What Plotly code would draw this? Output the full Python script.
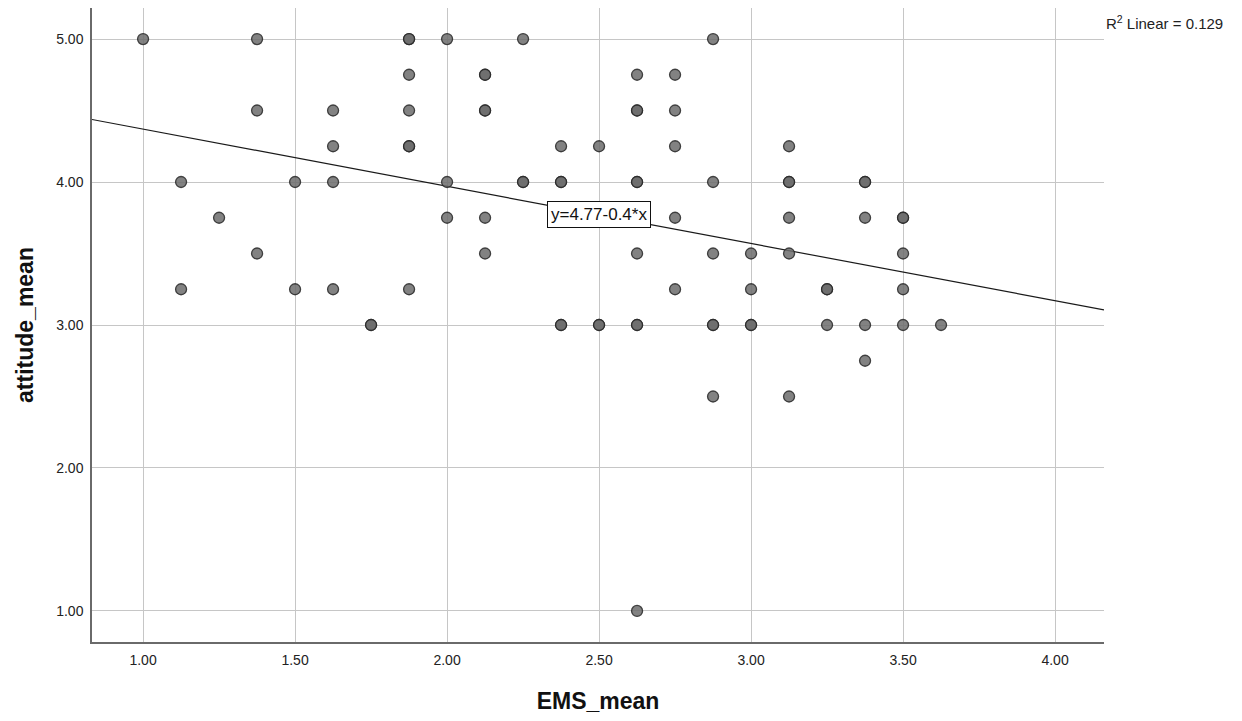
import plotly.graph_objects as go

# EMS_mean / attitude_mean observations (repeated pairs listed once per case)
ems_mean = [
    1.000,
    1.125, 1.125,
    1.250,
    1.375, 1.375, 1.375,
    1.500, 1.500,
    1.625, 1.625, 1.625, 1.625,
    1.750, 1.750,
    1.875, 1.875, 1.875, 1.875, 1.875, 1.875, 1.875,
    2.000, 2.000, 2.000,
    2.125, 2.125, 2.125, 2.125, 2.125, 2.125,
    2.250, 2.250, 2.250,
    2.375, 2.375, 2.375, 2.375, 2.375,
    2.500, 2.500, 2.500,
    2.625, 2.625, 2.625, 2.625, 2.625, 2.625, 2.625, 2.625, 2.625,
    2.750, 2.750, 2.750, 2.750, 2.750,
    2.875, 2.875, 2.875, 2.875, 2.875, 2.875,
    3.000, 3.000, 3.000, 3.000,
    3.125, 3.125, 3.125, 3.125, 3.125, 3.125,
    3.250, 3.250, 3.250,
    3.375, 3.375, 3.375, 3.375, 3.375,
    3.500, 3.500, 3.500, 3.500, 3.500,
    3.625,
]
attitude_mean = [
    5.00,
    4.00, 3.25,
    3.75,
    5.00, 4.50, 3.50,
    4.00, 3.25,
    4.50, 4.25, 4.00, 3.25,
    3.00, 3.00,
    5.00, 5.00, 4.75, 4.50, 4.25, 4.25, 3.25,
    5.00, 4.00, 3.75,
    4.75, 4.75, 4.50, 4.50, 3.75, 3.50,
    5.00, 4.00, 4.00,
    4.25, 4.00, 4.00, 3.00, 3.00,
    4.25, 3.00, 3.00,
    4.75, 4.50, 4.50, 4.00, 4.00, 3.50, 3.00, 3.00, 1.00,
    4.75, 4.50, 4.25, 3.75, 3.25,
    5.00, 4.00, 3.50, 3.00, 3.00, 2.50,
    3.50, 3.25, 3.00, 3.00,
    4.25, 4.00, 4.00, 3.75, 3.50, 2.50,
    3.25, 3.25, 3.00,
    4.00, 4.00, 3.75, 3.00, 2.75,
    3.75, 3.75, 3.50, 3.25, 3.00,
    3.00,
]

# Linear fit: y = intercept + slope * x
intercept = 4.77
slope = -0.4
r_squared = 0.129

x_range = [0.832, 4.161]
y_range = [0.783, 5.217]
tick_vals_x = [1.0, 1.5, 2.0, 2.5, 3.0, 3.5, 4.0]
tick_vals_y = [1.0, 2.0, 3.0, 4.0, 5.0]

fit_x = x_range
fit_y = [intercept + slope * v for v in fit_x]

font_family = "Liberation Sans, Arial, sans-serif"

fig = go.Figure()

fig.add_trace(go.Scatter(
    x=fit_x, y=fit_y, mode="lines",
    line=dict(color="#1a1a1a", width=1.2),
    hoverinfo="skip", showlegend=False,
))

fig.add_trace(go.Scatter(
    x=ems_mean, y=attitude_mean, mode="markers",
    marker=dict(size=11, color="rgba(108,108,108,0.85)",
                line=dict(color="rgba(40,40,40,0.85)", width=1.3)),
    showlegend=False,
))

# Fit equation label on the regression line
fig.add_annotation(
    x=2.5, y=3.77, xref="x", yref="y",
    text=f"y={intercept:.2f}{slope:+.1f}*x",
    showarrow=False,
    font=dict(family=font_family, size=17, color="#111"),
    bgcolor="white", bordercolor="#111", borderwidth=1, borderpad=3,
)

# R-squared label in the upper-right corner
fig.add_annotation(
    x=1.0, y=1.0, xref="paper", yref="paper",
    xanchor="left", yanchor="top", xshift=0, yshift=-3,
    text=f"R<sup>2</sup> Linear = {r_squared:.3f}",
    showarrow=False,
    font=dict(family=font_family, size=15, color="#222"),
)

fig.update_layout(
    width=1242, height=721,
    margin=dict(l=92, r=138, t=8, b=79),
    paper_bgcolor="white", plot_bgcolor="white",
    font=dict(family=font_family, color="#222"),
)

fig.update_xaxes(
    range=x_range, tickvals=tick_vals_x, tickformat=".2f",
    showgrid=True, gridcolor="#c6c6c6", gridwidth=1,
    showline=True, linecolor="#6a6a6a", linewidth=1.5,
    zeroline=False, ticks="outside", ticklen=4, tickcolor="rgba(0,0,0,0)",
    tickfont=dict(size=14, color="#222"),
    title=dict(text="<b>EMS_mean</b>", font=dict(size=23, color="#111"), standoff=26),
)
fig.update_yaxes(
    range=y_range, tickvals=tick_vals_y, tickformat=".2f",
    showgrid=True, gridcolor="#c6c6c6", gridwidth=1,
    showline=True, linecolor="#6a6a6a", linewidth=1.5,
    zeroline=False, ticks="outside", ticklen=4, tickcolor="rgba(0,0,0,0)",
    tickfont=dict(size=14, color="#222"),
    title=dict(text="<b>attitude_mean</b>", font=dict(size=23, color="#111"), standoff=16),
)

fig.write_html("out.html")
